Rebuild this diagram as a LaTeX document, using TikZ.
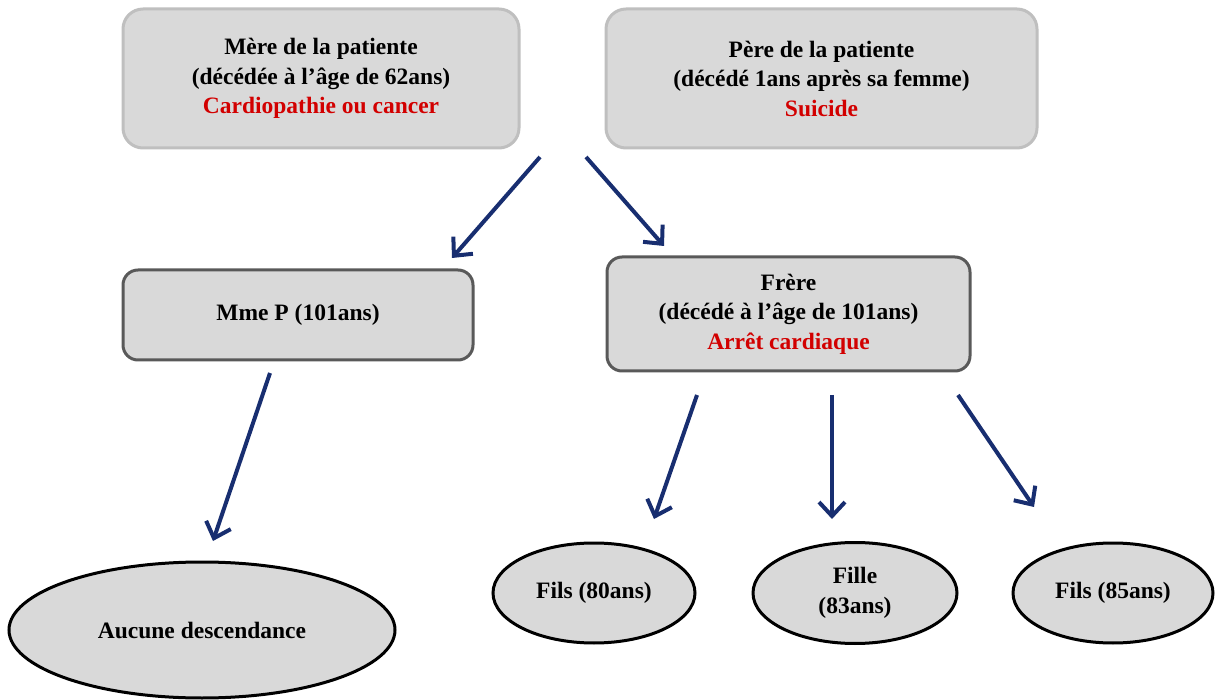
\documentclass[tikz,border=0pt]{standalone}
\usepackage{fontspec}
\setmainfont{Liberation Serif}
\usetikzlibrary{shapes.geometric,arrows.meta}
\definecolor{boxfill}{RGB}{217,217,217}
\definecolor{lightedge}{RGB}{191,191,191}
\definecolor{darkedge}{RGB}{89,89,89}
\definecolor{navy}{RGB}{24,46,112}
\definecolor{cause}{RGB}{210,0,0}

\begin{document}
\begin{tikzpicture}[x=1pt, y=-1pt,
  every node/.style={font=\bfseries\fontsize{23.5}{29.5}\selectfont, align=center, inner sep=0pt},
  parentbox/.style={draw=lightedge, fill=boxfill, line width=3pt, rounded corners=20pt, minimum height=139pt},
  siblingbox/.style={draw=darkedge, fill=boxfill, line width=3pt, rounded corners=15pt},
  childbox/.style={ellipse, draw=black, fill=boxfill, line width=3pt},
  link/.style={navy, line width=4pt, -{Straight Barb[length=14pt,width=26pt]}}]
\useasboundingbox (0,0) rectangle (1216,700);

% parents
\node[parentbox, minimum width=396pt] (mere) at (321,78.5)
  {Mère de la patiente\\(décédée à l’âge de 62ans)\\\textcolor{cause}{Cardiopathie ou cancer}};
\node[parentbox, minimum width=431pt] (pere) at (821.5,78.5)
  {Père de la patiente\\(décédé 1ans après sa femme)\\\textcolor{cause}{Suicide}};

% siblings
\node[siblingbox, minimum width=350pt, minimum height=90pt] (mmep) at (298,315) {Mme P (101ans)};
\node[siblingbox, minimum width=363pt, minimum height=114pt] (frere) at (788.5,314)
  {Frère\\(décédé à l’âge de 101ans)\\\textcolor{cause}{Arrêt cardiaque}};

% descendants
\node[childbox, minimum width=386pt, minimum height=136pt] (aucune) at (202,630) {Aucune descendance};
\node[childbox, minimum width=202pt, minimum height=100pt] (fils1) at (594,593) {Fils (80ans)};
\node[childbox, minimum width=204pt, minimum height=101pt] (fille) at (855,593) {Fille\\(83ans)};
\node[childbox, minimum width=200pt, minimum height=100pt] (fils2) at (1113,593) {Fils (85ans)};

% arrow ends
\coordinate (a1) at (540,157); \coordinate (b1) at (452,258);
\coordinate (a2) at (586,157); \coordinate (b2) at (664,246);
\coordinate (a3) at (270,373); \coordinate (b3) at (213,541);
\coordinate (a4) at (697,395); \coordinate (b4) at (654,519);
\coordinate (a5) at (832,395); \coordinate (b5) at (832,519);
\coordinate (a6) at (958,395); \coordinate (b6) at (1034,507);

\draw[link] (a1) -- (b1);
\draw[link] (a2) -- (b2);
\draw[link] (a3) -- (b3);
\draw[link] (a4) -- (b4);
\draw[link] (a5) -- (b5);
\draw[link] (a6) -- (b6);
\end{tikzpicture}
\end{document}
